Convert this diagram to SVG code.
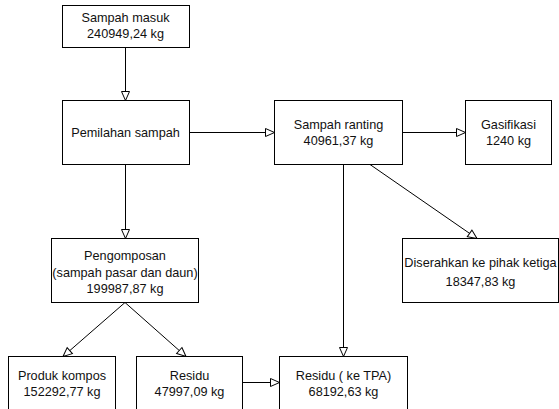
<svg xmlns="http://www.w3.org/2000/svg" width="559" height="409" viewBox="0 0 559 409">
<defs>
<marker id="arr" markerUnits="userSpaceOnUse" markerWidth="12" markerHeight="12" refX="9" refY="4" orient="auto" viewBox="-1 -1 12 10">
<path d="M0,0 L9,4 L0,8 Z" fill="#ffffff" stroke="#000000" stroke-width="1"/>
</marker>
</defs>
<style>
.box{fill:#ffffff;stroke:#000000;stroke-width:1}
.t{font-family:"Liberation Sans",Arial,Helvetica,sans-serif;font-size:12.7px;fill:#111111;text-anchor:middle}
.c{fill:none;stroke:#000000;stroke-width:1;marker-end:url(#arr)}
</style>
<rect width="559" height="409" fill="#ffffff"/>
<g id="connectors">
<line class="c" x1="125.5" y1="47.5" x2="125.5" y2="100.5"/>
<line class="c" x1="189.5" y1="132.5" x2="274.5" y2="132.5"/>
<line class="c" x1="402.5" y1="132.5" x2="465.5" y2="132.5"/>
<line class="c" x1="125.5" y1="164.5" x2="125.5" y2="238.5"/>
<line class="c" x1="370" y1="164.5" x2="477" y2="238.5"/>
<line class="c" x1="343.5" y1="164.5" x2="343.5" y2="356.5"/>
<line class="c" x1="125" y1="302.5" x2="63" y2="356.5"/>
<line class="c" x1="125" y1="302.5" x2="186" y2="356.5"/>
<line class="c" x1="242.5" y1="382.5" x2="279.5" y2="382.5"/>
</g>
<g id="sampah-masuk">
<rect class="box" x="62.5" y="5.5" width="127" height="42"/>
<text class="t" x="125.5" y="22">Sampah masuk</text>
<text class="t" x="125.5" y="38">240949,24 kg</text>
</g>
<g id="pemilahan">
<rect class="box" x="62.5" y="100.5" width="127" height="64"/>
<text class="t" x="125.5" y="136.5">Pemilahan sampah</text>
</g>
<g id="sampah-ranting">
<rect class="box" x="274.5" y="100.5" width="128" height="64"/>
<text class="t" x="338.5" y="128.5">Sampah ranting</text>
<text class="t" x="338.5" y="145">40961,37 kg</text>
</g>
<g id="gasifikasi">
<rect class="box" x="465.5" y="100.5" width="86" height="64"/>
<text class="t" x="508.5" y="128.5">Gasifikasi</text>
<text class="t" x="508.5" y="145">1240 kg</text>
</g>
<g id="pengomposan">
<rect class="box" x="51.5" y="238.5" width="147" height="64"/>
<text class="t" x="125" y="260">Pengomposan</text>
<text class="t" x="125" y="276.5">(sampah pasar dan daun)</text>
<text class="t" x="125" y="293">199987,87 kg</text>
</g>
<g id="diserahkan">
<rect class="box" x="402.5" y="238.5" width="156" height="64"/>
<text class="t" x="480.5" y="267">Diserahkan ke pihak ketiga</text>
<text class="t" x="480.5" y="285.5">18347,83 kg</text>
</g>
<g id="produk-kompos">
<rect class="box" x="8.5" y="356.5" width="107" height="64"/>
<text class="t" x="62" y="379.5">Produk kompos</text>
<text class="t" x="62" y="396">152292,77 kg</text>
</g>
<g id="residu">
<rect class="box" x="136.5" y="356.5" width="106" height="64"/>
<text class="t" x="189.5" y="379.5">Residu</text>
<text class="t" x="189.5" y="396">47997,09 kg</text>
</g>
<g id="residu-tpa">
<rect class="box" x="279.5" y="356.5" width="128" height="64"/>
<text class="t" x="343.5" y="379.5">Residu ( ke TPA)</text>
<text class="t" x="343.5" y="396">68192,63 kg</text>
</g>
</svg>
